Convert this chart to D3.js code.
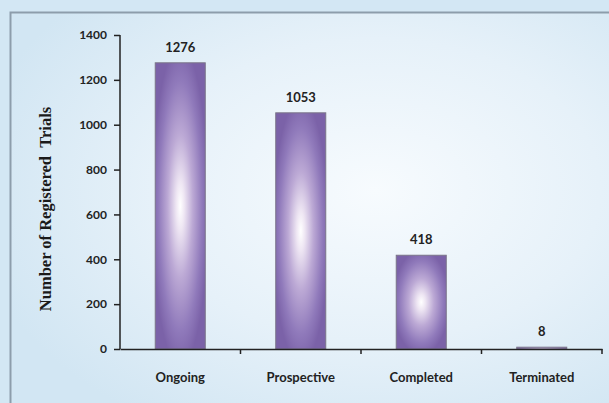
<!DOCTYPE html>
<html>
<head>
<meta charset="utf-8">
<script src="https://cdn.jsdelivr.net/npm/d3@7/dist/d3.min.js"></script>
<style>
  html, body { margin: 0; padding: 0; background: #d3e7f4; }
  svg { display: block; }
</style>
</head>
<body>
<div id="chart"></div>
<script>
// datos
const categories = ["Ongoing", "Prospective", "Completed", "Terminated"];
const trials = [1276, 1053, 418, 8];
const yTicks = [0, 200, 400, 600, 800, 1000, 1200, 1400];
const yTitle = "Number of Registered\u00a0\u00a0Trials";

const width = 609;
const height = 403;
const margin = { top: 35, bottom: 54, left: 120, right: 7 };

const svg = d3.select("div#chart")
  .append("svg")
  .attr("width", width)
  .attr("height", height);

const defs = svg.append("defs");

// fondo del panel
const bg = defs.append("radialGradient")
  .attr("id", "panelBg")
  .attr("cx", "0.58").attr("cy", "0.42").attr("r", "0.65");
bg.append("stop").attr("offset", "0").attr("stop-color", "#f7fbfe");
bg.append("stop").attr("offset", "0.55").attr("stop-color", "#e6f1f9");
bg.append("stop").attr("offset", "1").attr("stop-color", "#d2e6f3");

// degradado de las barras
const barGrad = defs.append("radialGradient")
  .attr("id", "barGrad")
  .attr("cx", "0.5").attr("cy", "0.5").attr("r", "0.56");
barGrad.append("stop").attr("offset", "0").attr("stop-color", "#ffffff");
barGrad.append("stop").attr("offset", "0.15").attr("stop-color", "#eee6f3");
barGrad.append("stop").attr("offset", "0.45").attr("stop-color", "#bca9d5");
barGrad.append("stop").attr("offset", "0.78").attr("stop-color", "#907abb");
barGrad.append("stop").attr("offset", "1").attr("stop-color", "#7b62a8");

svg.append("rect")
  .attr("x", 0).attr("y", 0)
  .attr("width", width).attr("height", height)
  .attr("fill", "#d3e7f4");

svg.append("rect")
  .attr("x", 10.5).attr("y", 12.5)
  .attr("width", width + 20).attr("height", height + 20)
  .attr("fill", "url(#panelBg)")
  .attr("stroke", "#8d9dab")
  .attr("stroke-width", 2);

// escalas
const x = d3.scaleBand()
  .domain(categories)
  .range([margin.left, width - margin.right])
  .paddingInner(0.585)
  .paddingOuter(0.2925);

const y = d3.scaleLinear()
  .domain([0, 1400])
  .range([height - margin.bottom, margin.top]);

// barras
svg.append("g").attr("id", "bars")
  .selectAll("rect")
  .data(trials)
  .join("rect")
  .attr("x", (d, i) => x(categories[i]))
  .attr("y", d => y(d))
  .attr("width", x.bandwidth())
  .attr("height", d => y(0) - y(d))
  .attr("fill", "url(#barGrad)")
  .attr("stroke", "#7a7488")
  .attr("stroke-width", 1);

// etiquetas de valor
svg.append("g").attr("id", "labels")
  .selectAll("text")
  .data(trials)
  .join("text")
  .attr("x", (d, i) => x(categories[i]) + x.bandwidth() / 2)
  .attr("y", d => y(d) - 11)
  .attr("text-anchor", "middle")
  .attr("font-family", "Lato, sans-serif")
  .attr("font-weight", "bold")
  .attr("font-size", 13)
  .attr("fill", "#222")
  .text(d => d);

// eje Y
const yAxis = d3.axisLeft(y)
  .tickValues(yTicks)
  .tickFormat(d3.format("d"))
  .tickSize(6)
  .tickPadding(7);

const yAxisGroup = svg.append("g")
  .attr("transform", `translate(${margin.left},0)`)
  .call(yAxis);
yAxisGroup.select(".domain").attr("d", `M0,${y(1400)}V${y(0)}`);

// eje X: línea y marcas en los límites de cada categoría
const xAxis = d3.axisBottom(x).tickSize(0).tickPadding(24);
const xAxisGroup = svg.append("g")
  .attr("transform", `translate(0,${y(0)})`)
  .call(xAxis);

const bounds = categories.map((c, i) => x(c) - x.step() * x.paddingInner() / 2 + x.step());
xAxisGroup.selectAll(".bound")
  .data(bounds)
  .join("line")
  .attr("class", "bound")
  .attr("x1", d => d).attr("x2", d => d)
  .attr("y1", 0).attr("y2", 5)
  .attr("stroke", "#222")
  .attr("stroke-width", 1.5);

[yAxisGroup, xAxisGroup].forEach(g => {
  g.selectAll(".domain, .tick line").attr("stroke", "#222").attr("stroke-width", 1.5);
  g.selectAll(".tick text")
    .attr("font-family", "Lato, sans-serif")
    .attr("font-weight", "bold")
    .attr("fill", "#222");
});
yAxisGroup.selectAll(".tick text").attr("font-size", 12);
xAxisGroup.selectAll(".tick text").attr("font-size", 13);

// título eje Y
svg.append("text")
  .attr("transform", "translate(51,209) rotate(-90)")
  .attr("text-anchor", "middle")
  .attr("font-family", "'Liberation Serif', 'Times New Roman', serif")
  .attr("font-weight", "bold")
  .attr("font-size", 16.5)
  .attr("fill", "#1a1a1a")
  .text(yTitle);
</script>
</body>
</html>
